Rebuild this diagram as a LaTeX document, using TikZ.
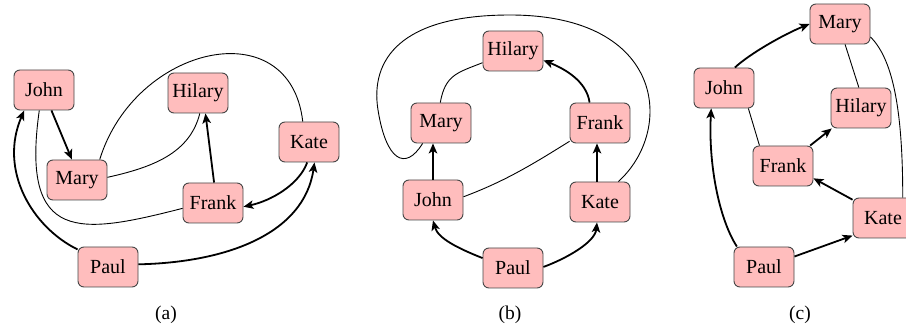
\documentclass[tikz,border=0pt]{standalone}
\usepackage{fontspec}
\setmainfont{Liberation Serif}
\usetikzlibrary{arrows.meta}
\definecolor{nodepink}{RGB}{255,189,189}
\definecolor{nodeborder}{RGB}{70,70,70}
\begin{document}
\begin{tikzpicture}[x=1pt,y=-1pt,
  person/.style={draw=nodeborder,line width=0.9pt,fill=nodepink,rounded corners=6pt,
    minimum width=60pt,minimum height=40pt,inner sep=0pt,
    font=\fontsize{20}{24}\selectfont},
  thinline/.style={line width=0.9pt},
  thickarrow/.style={line width=1.8pt,-{Stealth[length=10pt,width=8.5pt,inset=2.5pt]}},
  caption/.style={font=\fontsize{19.5}{23}\selectfont}]
\useasboundingbox (0,0) rectangle (906,328);

% ---------------- panel (a) ----------------
\node[person] (aJohn)   at (44,90)   {John};
\node[person] (aMary)   at (77,180)  {Mary};
\node[person] (aHilary) at (198,93)  {Hilary};
\node[person] (aKate)   at (309,142) {Kate};
\node[person] (aFrank)  at (213,203) {Frank};
\node[person] (aPaul)   at (108,267) {Paul};

\draw[thickarrow] (aJohn.290) -- (aMary.104);
\draw[thinline] (aMary.42) .. controls (135,45) and (290,10) .. (aKate.107);
\draw[thinline] (aMary.5) .. controls +(45,-10) and +(-10,40) .. (aHilary.275);
\draw[thinline] (aJohn.257) .. controls +(-19,134) and +(-102,26) .. (aFrank.190);
\draw[thickarrow] (aFrank.87) -- (aHilary.290);
\draw[thickarrow] (aKate.265) .. controls +(-8,22) and +(28,-6) .. (aFrank.353);
\draw[thickarrow] (aPaul.150) .. controls +(-45,-22) and +(-26,60) .. (aJohn.226);
\draw[thickarrow] (aPaul.5) .. controls +(91,-2) and +(-10,70) .. (aKate.285);

\node[caption] (capA) at (166,315) {(a)};

% ---------------- panel (b) ----------------
\node[person] (bHilary) at (513,51)  {Hilary};
\node[person] (bMary)   at (441,123) {Mary};
\node[person] (bFrank)  at (600,123) {Frank};
\node[person] (bJohn)   at (433,200) {John};
\node[person] (bKate)   at (600,202) {Kate};
\node[person] (bPaul)   at (513,268) {Paul};

\draw[thickarrow] (bJohn.north) -- (bJohn.north |- bMary.south);
\draw[thickarrow] ([xshift=-3pt]bKate.north) -- ([xshift=-3pt]bKate.north |- bFrank.south);
\draw[thickarrow] (bPaul.162) .. controls +(-25,-10) and +(5,18) .. (bJohn.south);
\draw[thickarrow] (bPaul.2) .. controls +(22,-8) and +(-2,20) .. ([xshift=-3pt]bKate.south);
\draw[thickarrow] (bFrank.117) .. controls +(-3,-22) and +(20,8) .. (bHilary.343);
\draw[thinline] (bMary.92) .. controls +(5,-28) and +(-25,10) .. (bHilary.201);
\draw[thinline] (bJohn.6) .. controls +(40,-15) and +(-40,25) .. (bFrank.211);
\draw[thinline] (bKate.48) .. controls (675,130) and (665,15) .. (510,15)
  .. controls (400,15) and (370,60) .. (378,110)
  .. controls (386,160) and (405,172) .. (bMary.228);

\node[caption] (capB) at (510,315) {(b)};

% ---------------- panel (c) ----------------
\node[person] (cMary)   at (840,24)  {Mary};
\node[person] (cJohn)   at (724,88)  {John};
\node[person] (cHilary) at (861,108) {Hilary};
\node[person] (cFrank)  at (783,166) {Frank};
\node[person] (cKate)   at (883,218) {Kate};
\node[person] (cPaul)   at (764,267) {Paul};

\draw[thickarrow] (cJohn.62) .. controls +(15,-14) and +(-25,10) .. (cMary.west);
\draw[thinline] (cMary.284) -- (cHilary.96);
\draw[thinline] (cMary.337) .. controls +(22,22) and +(0,-90) .. (cKate.46);
\draw[thinline] (cJohn.320) -- (cFrank.139);
\draw[thickarrow] (cFrank.37) -- (cHilary.215);
\draw[thickarrow] (cKate.149) -- (cFrank.338);
\draw[thickarrow] (cPaul.143) .. controls +(-18,-28) and +(-3,55) .. (cJohn.238);
\draw[thickarrow] (cPaul.19) -- (cKate.210);

\node[caption] (capC) at (800,315) {(c)};
\end{tikzpicture}
\end{document}
